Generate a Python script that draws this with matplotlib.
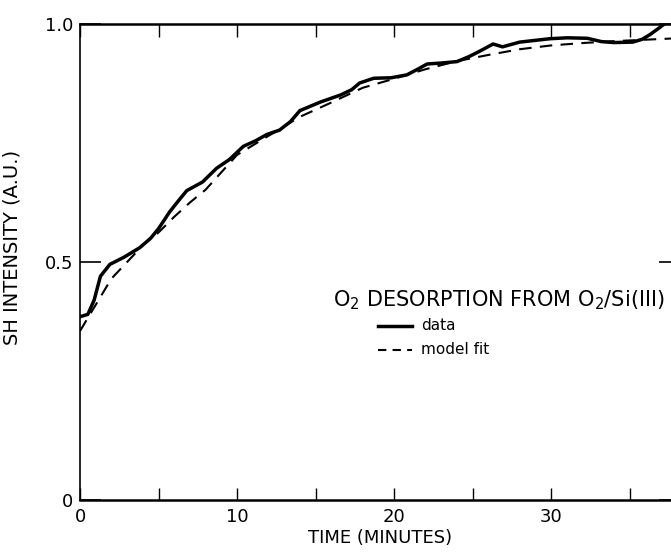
import matplotlib.pyplot as plt

# data
data_time = [0, 0.5, 0.9, 1.3, 1.9, 2.8, 3.8, 4.5, 5.0, 5.7, 6.3, 6.8, 7.8, 8.7,
             9.5, 10.4, 11.2, 11.9, 12.7, 13.4, 14.0, 15.3, 16.6, 17.3, 17.8, 18.7,
             19.8, 20.8, 21.5, 22.1, 23.0, 24.0, 24.8, 25.4, 26.3, 26.9, 28.0, 29.9,
             31.0, 32.3, 33.2, 34.0, 35.2, 35.8, 36.3, 36.8, 37.2]
data_sh = [0.385, 0.39, 0.42, 0.47, 0.495, 0.51, 0.53, 0.55, 0.57, 0.605, 0.63, 0.65,
           0.668, 0.697, 0.715, 0.743, 0.755, 0.768, 0.777, 0.795, 0.818, 0.836, 0.851,
           0.862, 0.876, 0.886, 0.887, 0.893, 0.905, 0.916, 0.918, 0.921, 0.932, 0.942,
           0.958, 0.952, 0.962, 0.969, 0.971, 0.970, 0.963, 0.961, 0.962, 0.968, 0.978,
           0.99, 1.0]

fit_time = [0, 1, 2, 3, 4, 5, 6, 7, 8, 10, 12, 14, 16, 18, 20, 22, 24, 26, 28, 30,
            32, 34, 36, 38]
fit_sh = [0.355, 0.41, 0.465, 0.50, 0.535, 0.562, 0.595, 0.625, 0.652, 0.725, 0.765,
          0.805, 0.835, 0.866, 0.885, 0.905, 0.922, 0.935, 0.947, 0.955, 0.96, 0.964,
          0.967, 0.97]

x_major = [0, 10, 20, 30]
x_minor = [5, 15, 25, 35]
y_ticks = [0, 0.5, 1.0]
y_labels = ["0", "0.5", "1.0"]

fig = plt.figure(figsize=(6.71, 5.56), dpi=100)
ax = fig.add_axes([80 / 671, 56 / 556, 600 / 671, 476 / 556])

ax.plot(data_time, data_sh, color="black", linewidth=2.5, solid_capstyle="round")
ax.plot(fit_time, fit_sh, color="black", linewidth=1.5, linestyle=(0, (6, 4)))

ax.set_xlim(0, 38.2)
ax.set_ylim(0, 1.0)

ax.set_xticks(x_major)
ax.set_xticks(x_minor, minor=True)
ax.set_yticks(y_ticks, y_labels)
ax.tick_params(axis="x", which="both", direction="in", length=9, width=1,
               top=True, labelsize=13, pad=6)
ax.tick_params(axis="y", which="major", direction="in", length=15, width=1.2,
               right=True, labelsize=13, pad=5)

for side in ["top", "bottom"]:
    ax.spines[side].set_linewidth(1.8)
ax.spines["left"].set_linewidth(1.2)

ax.set_xlabel("TIME (MINUTES)", fontsize=13, labelpad=2)
ax.set_ylabel("SH INTENSITY (A.U.)", fontsize=14)
ax.yaxis.set_label_coords(-0.097, 0.53)

ax.text(0.422, 0.42, r"O$_2$ DESORPTION FROM O$_2$/Si(III)", transform=ax.transAxes,
        fontsize=15, ha="left", va="center")
ax.plot([0.497, 0.553], [0.366, 0.366], transform=ax.transAxes, color="black",
        linewidth=2.5)
ax.text(0.568, 0.366, "data", transform=ax.transAxes, fontsize=11, va="center")
ax.plot([0.497, 0.553], [0.316, 0.316], transform=ax.transAxes, color="black",
        linewidth=1.5, linestyle=(0, (4, 3)))
ax.text(0.568, 0.316, "model fit", transform=ax.transAxes, fontsize=11, va="center")

fig.savefig("out.png", dpi=100)
